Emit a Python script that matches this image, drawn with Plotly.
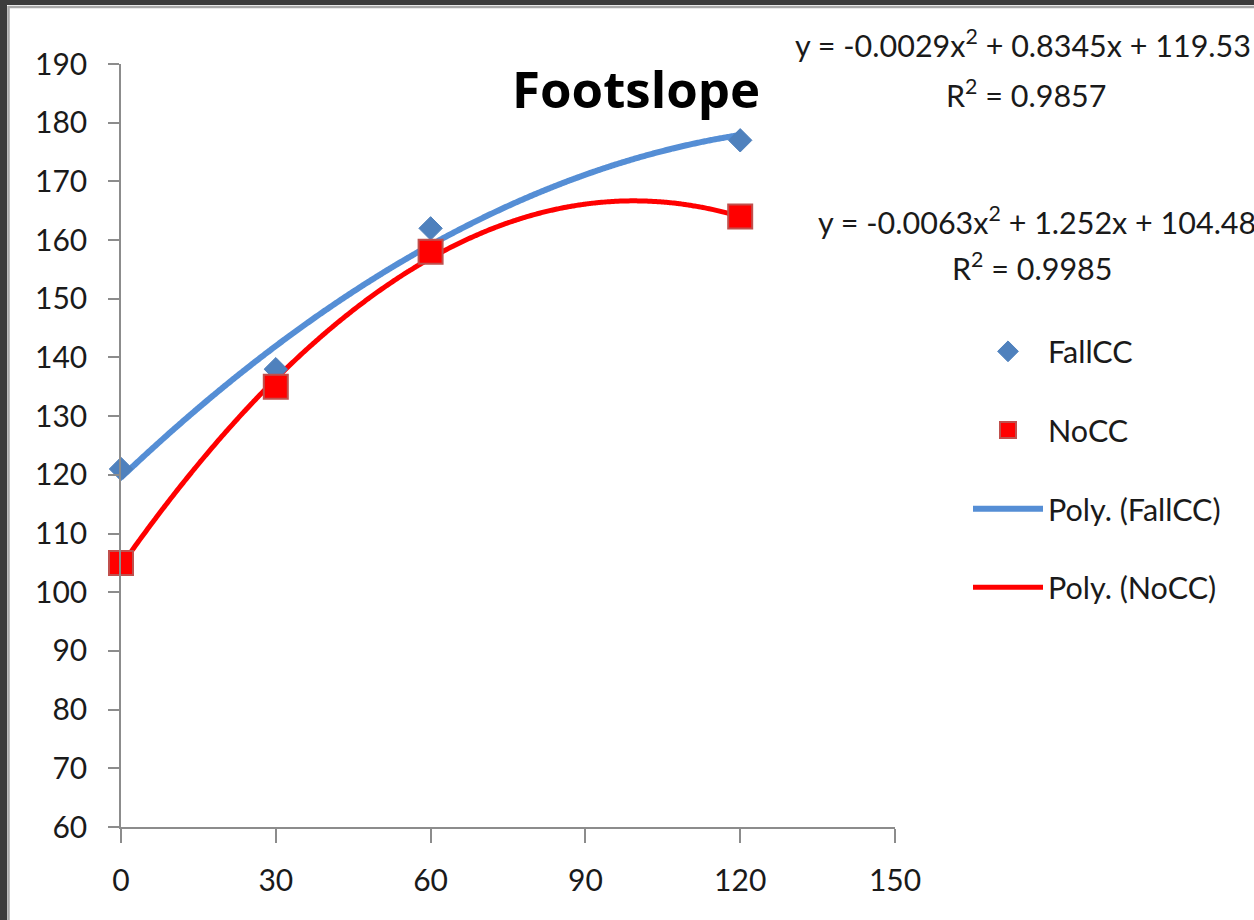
import numpy as np
import plotly.graph_objects as go

# ---- data ----
x_days = [0, 30, 60, 120]
fallcc = [121, 138, 162, 177]
nocc = [105, 135, 158, 164]

# trendline coefficients (a, b, c) for y = a x^2 + b x + c, as printed on the chart
fall_coef = [-0.0029, 0.8345, 119.53]
nocc_coef = [-0.0063, 1.252, 104.48]
fall_r2 = 0.9857
nocc_r2 = 0.9985

x_ticks = [0, 30, 60, 90, 120, 150]
y_ticks = list(range(60, 191, 10))

W, H = 1254, 920
L, R, T, B = 121, 895, 64, 827  # plot area in pixels


def px(xp):
    return (xp - L) / (R - L)


def py(yp):
    return (B - yp) / (B - T)


xs = np.linspace(min(x_days), max(x_days), 300)
fall_curve = np.polyval(fall_coef, xs)
nocc_curve = np.polyval(nocc_coef, xs)

FONT = "Lato, 'Open Sans', sans-serif"
TXT = "#1a1a1a"

fig = go.Figure()
fig.add_trace(go.Scatter(
    x=xs, y=fall_curve, mode="lines", name="Poly. (FallCC)",
    line=dict(color="#558ED5", width=6, shape="spline"), legendrank=3, legendgroup="c",
    hoverinfo="skip"))
fig.add_trace(go.Scatter(
    x=xs, y=nocc_curve, mode="lines", name="Poly. (NoCC)",
    line=dict(color="#FF0000", width=5, shape="spline"), legendrank=4, legendgroup="d",
    hoverinfo="skip"))
fig.add_trace(go.Scatter(
    x=x_days, y=fallcc, mode="markers", name="FallCC",
    marker=dict(symbol="diamond", size=18, color="#4F81BD",
                line=dict(color="#4F81BD", width=1)),
    cliponaxis=False, legendrank=1, legendgroup="a"))
fig.add_trace(go.Scatter(
    x=x_days, y=nocc, mode="markers", name="NoCC",
    marker=dict(symbol="square", size=24, color="#FF0000",
                line=dict(color="#C0504D", width=2)),
    cliponaxis=False, legendrank=2, legendgroup="b"))

ann = []
ann.append(dict(text="<b>Footslope</b>", x=px(636), y=py(88), xref="paper", yref="paper",
                showarrow=False, xanchor="center", yanchor="middle",
                font=dict(family="'Open Sans', Lato, sans-serif", size=51, color="#000000")))


def eq_text(c):
    return "y = %sx<sup>2</sup> + %sx + %s" % (c[0], c[1], c[2])


EQ = 30.5
ann.append(dict(text=eq_text(fall_coef), x=px(1253), y=py(43), xref="paper", yref="paper",
                showarrow=False, xanchor="right", yanchor="middle",
                font=dict(family=FONT, size=EQ, color=TXT)))
ann.append(dict(text="R<sup>2</sup> = %s" % fall_r2, x=px(1026), y=py(93), xref="paper", yref="paper",
                showarrow=False, xanchor="center", yanchor="middle",
                font=dict(family=FONT, size=EQ, color=TXT)))
ann.append(dict(text=eq_text(nocc_coef), x=px(1258), y=py(220), xref="paper", yref="paper",
                showarrow=False, xanchor="right", yanchor="middle",
                font=dict(family=FONT, size=EQ, color=TXT)))
ann.append(dict(text="R<sup>2</sup> = %s" % nocc_r2, x=px(1032), y=py(266), xref="paper", yref="paper",
                showarrow=False, xanchor="center", yanchor="middle",
                font=dict(family=FONT, size=EQ, color=TXT)))

shapes = [
    dict(type="rect", xref="paper", yref="paper", x0=px(0), x1=px(7), y0=py(H), y1=py(0),
         fillcolor="#3C3C3C", line=dict(width=0), layer="above"),
    dict(type="rect", xref="paper", yref="paper", x0=px(0), x1=px(W), y0=py(5), y1=py(0),
         fillcolor="#3C3C3C", line=dict(width=0), layer="above"),
    dict(type="line", xref="paper", yref="paper", x0=px(8.5), x1=px(8.5), y0=py(H), y1=py(6),
         line=dict(color="#A8A8A8", width=2.5), layer="above"),
    dict(type="line", xref="paper", yref="paper", x0=px(8), x1=px(W), y0=py(7), y1=py(7),
         line=dict(color="#A8A8A8", width=2.5), layer="above"),
]

fig.update_layout(
    width=W, height=H,
    margin=dict(l=L, r=W - R, t=T, b=H - B),
    paper_bgcolor="white", plot_bgcolor="white",
    showlegend=True,
    legend=dict(x=px(968), y=py(325), xanchor="left", yanchor="top",
                font=dict(family=FONT, size=EQ, color=TXT),
                tracegroupgap=36, itemwidth=70, bgcolor="rgba(0,0,0,0)"),
    annotations=ann, shapes=shapes,
    xaxis=dict(range=[0, 150], tickvals=x_ticks, showgrid=False, zeroline=False,
               showline=True, linecolor="#8C8C8C", linewidth=1.5,
               ticks="outside", ticklen=14, tickcolor="#8C8C8C", tickwidth=1.5,
               ticklabelstandoff=12,
               tickfont=dict(family=FONT, size=30, color=TXT)),
    yaxis=dict(range=[60, 190], tickvals=y_ticks, showgrid=False, zeroline=False,
               showline=True, linecolor="#8C8C8C", linewidth=1.5,
               ticks="outside", ticklen=11, tickcolor="#8C8C8C", tickwidth=1.5,
               ticklabelstandoff=15,
               tickfont=dict(family=FONT, size=30, color=TXT)),
)

fig.write_html("out.html", config={"displayModeBar": False},
               post_script="document.body.style.margin='0';document.body.style.overflow='hidden';")
